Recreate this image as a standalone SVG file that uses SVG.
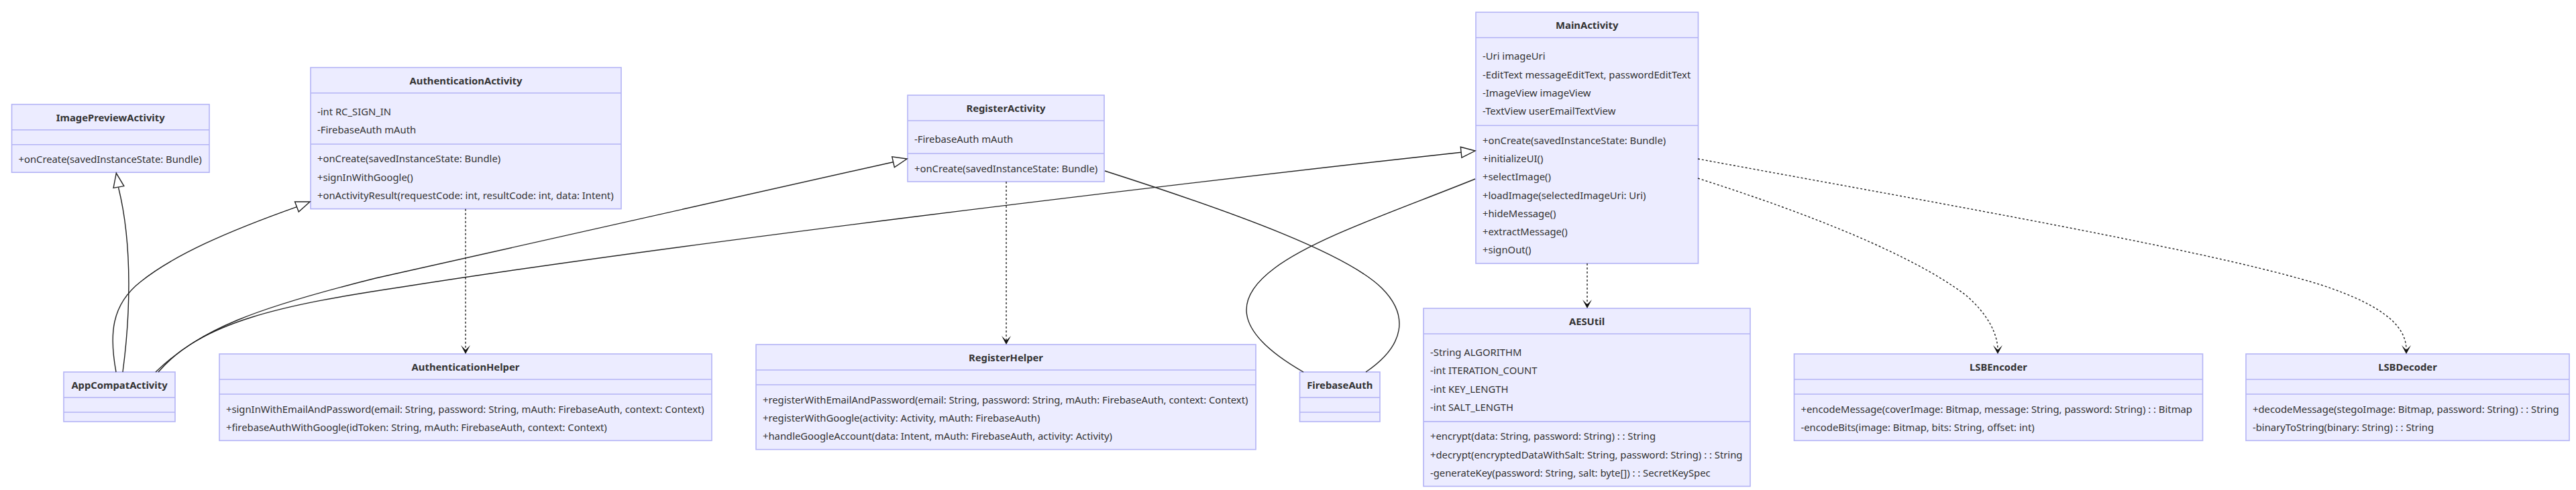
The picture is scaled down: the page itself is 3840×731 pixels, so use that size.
<svg xmlns="http://www.w3.org/2000/svg" width="3840" height="731" viewBox="0 0 3840 731">
<style>
.bg{fill:#ffffff}
.box{fill:#ECECFF;stroke:#b3b3f5;stroke-width:1.6}
.dv{stroke:#b3b3f5;stroke-width:1.6}
.t{font-family:"Noto Sans","Liberation Sans",sans-serif;font-size:14.8px;fill:#333333;dominant-baseline:central}
.ti{font-weight:bold;text-anchor:middle}
.e{fill:none;stroke:#222222;stroke-width:1.4}
.d{fill:none;stroke:#222222;stroke-width:1.4;stroke-dasharray:3 3}
.tri{fill:#ffffff;stroke:#222222;stroke-width:1.4}
.arr{fill:#111111;stroke:none}
</style>
<defs>
<path id="dep" d="M0,0 L-7,-13 L0,-6 L7,-13 Z"/>
<path id="ext" d="M0,0 L-21,-8 L-21,8 Z"/>
</defs>
<rect class="bg" x="0" y="0" width="3840" height="731"/>

<g id="ImagePreviewActivity" transform="translate(17.5,155.7)">
<rect class="box" x="0" y="0" width="294.5" height="101.5"/>
<line class="dv" x1="0" y1="38" x2="294.5" y2="38"/>
<line class="dv" x1="0" y1="60" x2="294.5" y2="60"/>
<text class="t ti" x="147.25" y="19">ImagePreviewActivity</text>
<text class="t" x="10" y="81.5">+onCreate(savedInstanceState: Bundle)</text>
</g>

<g id="AuthenticationActivity" transform="translate(463,100.7)">
<rect class="box" x="0" y="0" width="463" height="210.9"/>
<line class="dv" x1="0" y1="38" x2="463" y2="38"/>
<line class="dv" x1="0" y1="114.3" x2="463" y2="114.3"/>
<text class="t ti" x="231.5" y="19">AuthenticationActivity</text>
<text class="t" x="10" y="65">-int RC_SIGN_IN</text>
<text class="t" x="10" y="92.3">-FirebaseAuth mAuth</text>
<text class="t" x="10" y="135.8">+onCreate(savedInstanceState: Bundle)</text>
<text class="t" x="10" y="163.1">+signInWithGoogle()</text>
<text class="t" x="10" y="190.4">+onActivityResult(requestCode: int, resultCode: int, data: Intent)</text>
</g>

<g id="RegisterActivity" transform="translate(1353,142)">
<rect class="box" x="0" y="0" width="293" height="129"/>
<line class="dv" x1="0" y1="38" x2="293" y2="38"/>
<line class="dv" x1="0" y1="87" x2="293" y2="87"/>
<text class="t ti" x="146.5" y="19">RegisterActivity</text>
<text class="t" x="10" y="65">-FirebaseAuth mAuth</text>
<text class="t" x="10" y="108.5">+onCreate(savedInstanceState: Bundle)</text>
</g>

<g id="MainActivity" transform="translate(2200,18.3)">
<rect class="box" x="0" y="0" width="331.5" height="374.7"/>
<line class="dv" x1="0" y1="38" x2="331.5" y2="38"/>
<line class="dv" x1="0" y1="168.9" x2="331.5" y2="168.9"/>
<text class="t ti" x="165.75" y="19">MainActivity</text>
<text class="t" x="10" y="65">-Uri imageUri</text>
<text class="t" x="10" y="92.3">-EditText messageEditText, passwordEditText</text>
<text class="t" x="10" y="119.6">-ImageView imageView</text>
<text class="t" x="10" y="146.9">-TextView userEmailTextView</text>
<text class="t" x="10" y="190.4">+onCreate(savedInstanceState: Bundle)</text>
<text class="t" x="10" y="217.7">+initializeUI()</text>
<text class="t" x="10" y="245">+selectImage()</text>
<text class="t" x="10" y="272.3">+loadImage(selectedImageUri: Uri)</text>
<text class="t" x="10" y="299.6">+hideMessage()</text>
<text class="t" x="10" y="326.9">+extractMessage()</text>
<text class="t" x="10" y="354.2">+signOut()</text>
</g>

<g id="AppCompatActivity" transform="translate(95,555)">
<rect class="box" x="0" y="0" width="166" height="74"/>
<line class="dv" x1="0" y1="38" x2="166" y2="38"/>
<line class="dv" x1="0" y1="60" x2="166" y2="60"/>
<text class="t ti" x="83" y="19">AppCompatActivity</text>
</g>

<g id="AuthenticationHelper" transform="translate(327,528)">
<rect class="box" x="0" y="0" width="734" height="129.3"/>
<line class="dv" x1="0" y1="38" x2="734" y2="38"/>
<line class="dv" x1="0" y1="60" x2="734" y2="60"/>
<text class="t ti" x="367" y="19">AuthenticationHelper</text>
<text class="t" x="10" y="81.5">+signInWithEmailAndPassword(email: String, password: String, mAuth: FirebaseAuth, context: Context)</text>
<text class="t" x="10" y="108.8">+firebaseAuthWithGoogle(idToken: String, mAuth: FirebaseAuth, context: Context)</text>
</g>

<g id="RegisterHelper" transform="translate(1127,514)">
<rect class="box" x="0" y="0" width="745" height="156.6"/>
<line class="dv" x1="0" y1="38" x2="745" y2="38"/>
<line class="dv" x1="0" y1="60" x2="745" y2="60"/>
<text class="t ti" x="372.5" y="19">RegisterHelper</text>
<text class="t" x="10" y="81.5">+registerWithEmailAndPassword(email: String, password: String, mAuth: FirebaseAuth, context: Context)</text>
<text class="t" x="10" y="108.8">+registerWithGoogle(activity: Activity, mAuth: FirebaseAuth)</text>
<text class="t" x="10" y="136.1">+handleGoogleAccount(data: Intent, mAuth: FirebaseAuth, activity: Activity)</text>
</g>

<g id="FirebaseAuth" transform="translate(1937.5,555)">
<rect class="box" x="0" y="0" width="119.5" height="74"/>
<line class="dv" x1="0" y1="38" x2="119.5" y2="38"/>
<line class="dv" x1="0" y1="60" x2="119.5" y2="60"/>
<text class="t ti" x="59.75" y="19">FirebaseAuth</text>
</g>

<g id="AESUtil" transform="translate(2122,460)">
<rect class="box" x="0" y="0" width="487" height="265.5"/>
<line class="dv" x1="0" y1="38" x2="487" y2="38"/>
<line class="dv" x1="0" y1="168.9" x2="487" y2="168.9"/>
<text class="t ti" x="243.5" y="19">AESUtil</text>
<text class="t" x="10" y="65">-String ALGORITHM</text>
<text class="t" x="10" y="92.3">-int ITERATION_COUNT</text>
<text class="t" x="10" y="119.6">-int KEY_LENGTH</text>
<text class="t" x="10" y="146.9">-int SALT_LENGTH</text>
<text class="t" x="10" y="190.4">+encrypt(data: String, password: String) : : String</text>
<text class="t" x="10" y="217.7">+decrypt(encryptedDataWithSalt: String, password: String) : : String</text>
<text class="t" x="10" y="245">-generateKey(password: String, salt: byte[]) : : SecretKeySpec</text>
</g>

<g id="LSBEncoder" transform="translate(2674.5,528)">
<rect class="box" x="0" y="0" width="609" height="129.3"/>
<line class="dv" x1="0" y1="38" x2="609" y2="38"/>
<line class="dv" x1="0" y1="60" x2="609" y2="60"/>
<text class="t ti" x="304.5" y="19">LSBEncoder</text>
<text class="t" x="10" y="81.5">+encodeMessage(coverImage: Bitmap, message: String, password: String) : : Bitmap</text>
<text class="t" x="10" y="108.8">-encodeBits(image: Bitmap, bits: String, offset: int)</text>
</g>

<g id="LSBDecoder" transform="translate(3348,528)">
<rect class="box" x="0" y="0" width="482" height="129.3"/>
<line class="dv" x1="0" y1="38" x2="482" y2="38"/>
<line class="dv" x1="0" y1="60" x2="482" y2="60"/>
<text class="t ti" x="241" y="19">LSBDecoder</text>
<text class="t" x="10" y="81.5">+decodeMessage(stegoImage: Bitmap, password: String) : : String</text>
<text class="t" x="10" y="108.8">-binaryToString(binary: String) : : String</text>
</g>

<g id="connectors">
<path class="e" d="M183,555 C193,480 199,370 176.5,279.5"/>
<use href="#ext" class="tri" transform="translate(173.3,258.3) rotate(-100)"/>
<path class="e" d="M173,555 C163,500 165,455 210,420 C260,380 340,345 442.4,308.6"/>
<use href="#ext" class="tri" transform="translate(462,301) rotate(-21)"/>
<path class="e" d="M232,555 C300,490 380,460 560,415 L1331.6,241.7"/>
<use href="#ext" class="tri" transform="translate(1352,237) rotate(-13)"/>
<path class="e" d="M236,555 C300,480 420,455 600,428 C1000,365 1700,280 2178.1,227.2"/>
<use href="#ext" class="tri" transform="translate(2199,225) rotate(-6)"/>
<path class="e" d="M1647,255 C1850,320 2010,380 2060,430 C2100,470 2095,515 2036,555"/>
<path class="e" d="M2199,267 C2080,315 1960,355 1900,400 C1845,441 1830,490 1943,555"/>
<path class="d" d="M694,311.7 L694,522"/>
<use href="#dep" class="arr" transform="translate(694,528)"/>
<path class="d" d="M1500,271 L1500,508"/>
<use href="#dep" class="arr" transform="translate(1500,514)"/>
<path class="d" d="M2366,393 L2366,454"/>
<use href="#dep" class="arr" transform="translate(2366,460)"/>
<path class="d" d="M2531,266 C2700,320 2850,380 2930,440 C2965,470 2978,500 2978,522"/>
<use href="#dep" class="arr" transform="translate(2978,528)"/>
<path class="d" d="M2531,237 C2900,305 3300,375 3460,425 C3560,458 3587,490 3587,522"/>
<use href="#dep" class="arr" transform="translate(3587,528)"/>
</g>
</svg>
